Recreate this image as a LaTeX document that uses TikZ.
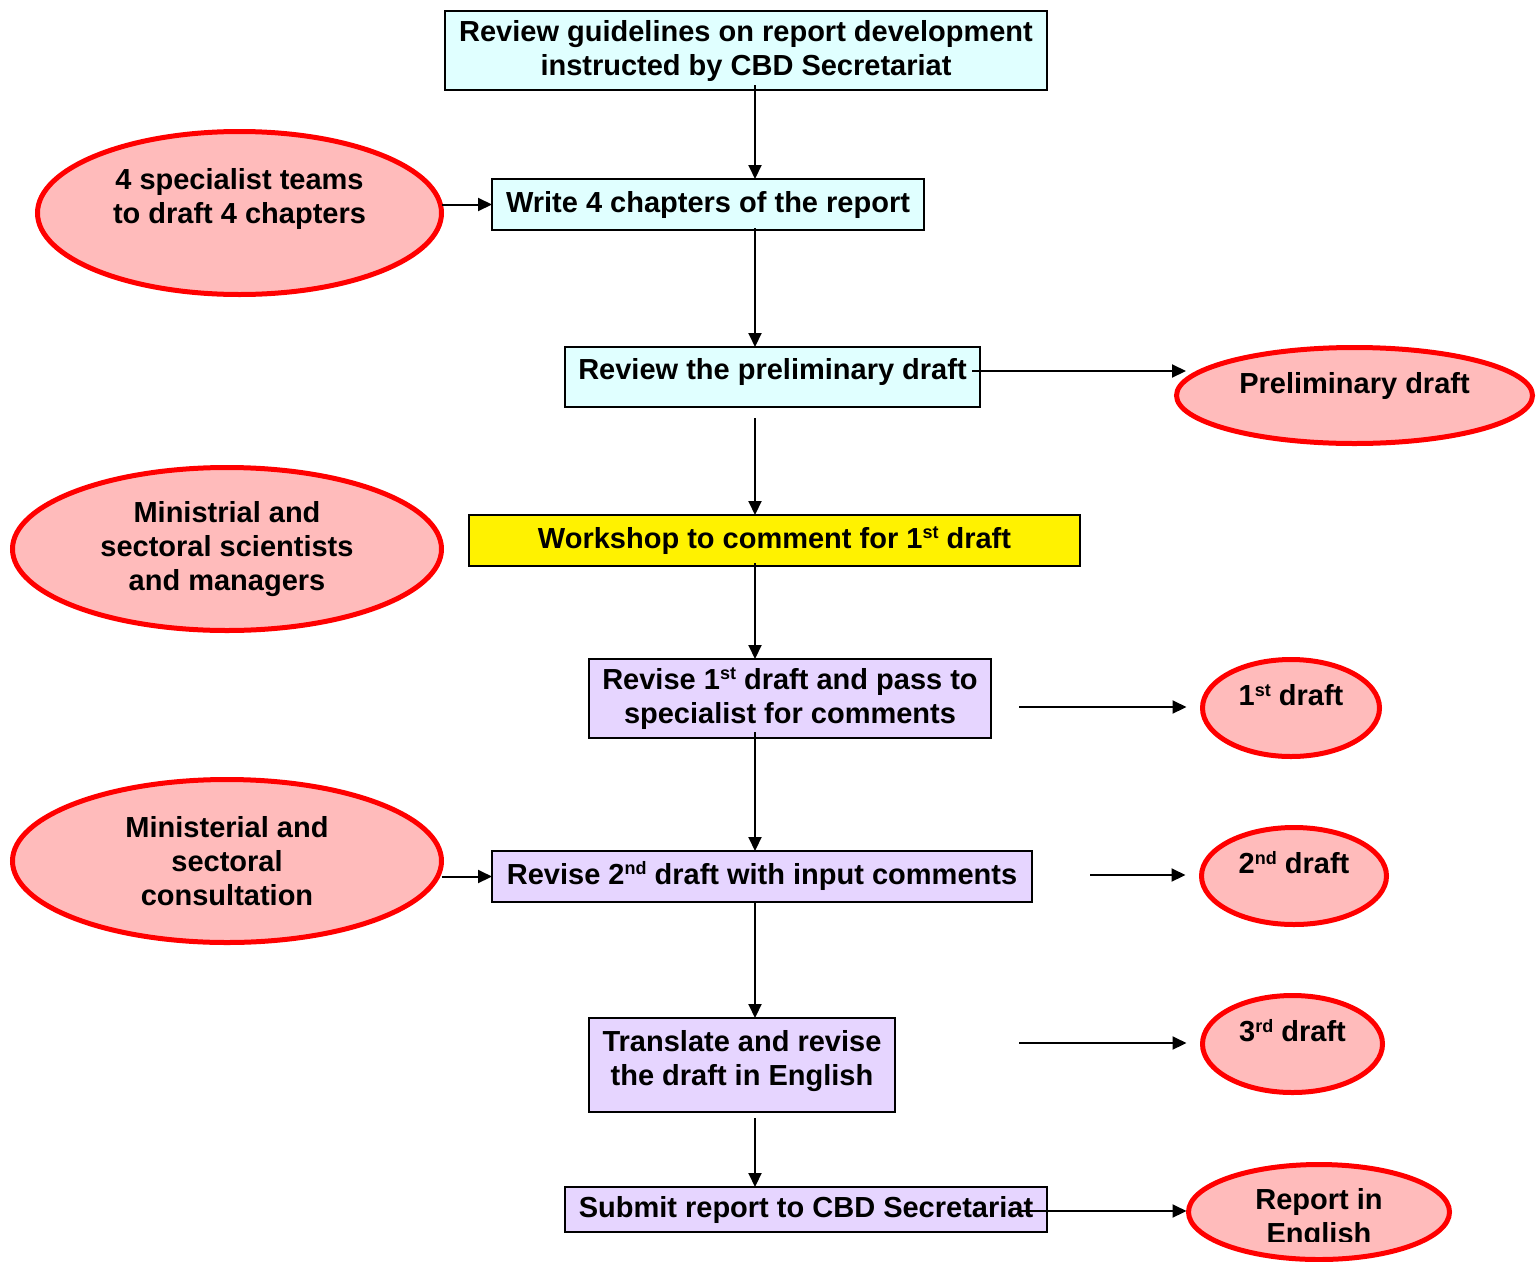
\documentclass[tikz,border=0pt]{standalone}
\usepackage{fontspec}
\setmainfont{Liberation Sans}
\usetikzlibrary{arrows.meta,shapes.geometric}
\definecolor{boxcyan}{RGB}{224,255,255}
\definecolor{boxlav}{RGB}{230,213,255}
\definecolor{ovalpink}{RGB}{255,187,187}
\definecolor{ovalred}{RGB}{255,0,0}
\newcommand\supx[1]{\raisebox{9.5pt}{\fontsize{18}{18}\selectfont #1}}
\begin{document}
\begin{tikzpicture}[x=1pt,y=-1pt,
  every node/.style={font=\fontsize{29}{34}\selectfont\bfseries, inner sep=0pt, outer sep=0pt, align=center},
  stepbox/.style={draw=black, line width=2pt, rectangle, inner sep=2pt},
  cyanbox/.style={stepbox, fill=boxcyan},
  lavbox/.style={stepbox, fill=boxlav},
  yelbox/.style={stepbox, fill=yellow},
  oval/.style={ellipse, draw=ovalred, fill=ovalpink, line width=5pt},
  single/.style={text height=21pt, text depth=26pt},
  arr/.style={line width=2pt, -{Triangle[length=14pt,width=13pt]}}
]
\useasboundingbox (0,0) rectangle (1538,1261);

% process boxes
\node[cyanbox, minimum width=602pt, minimum height=79pt] (b1) at (746,50.5)
  {Review guidelines on report development\\instructed by CBD Secretariat};
\node[cyanbox, minimum width=432pt, minimum height=51pt] (b2) at (708,204.5)
  {Write 4 chapters of the report};
\node[cyanbox, minimum width=415pt, minimum height=60pt, text height=21pt, text depth=16pt] (b3) at (772.5,377)
  {Review the preliminary draft};
\node[yelbox, minimum width=611pt, minimum height=51pt, text height=21pt, text depth=6pt] (b4) at (774.5,540.5)
  {Workshop to comment for 1\supx{st} draft};
\node[lavbox, minimum width=402pt, minimum height=79pt] (b5) at (790,698.5)
  {Revise 1\supx{st} draft and pass to\\specialist for comments};
\node[lavbox, minimum width=540pt, minimum height=51pt, text height=21pt, text depth=6pt] (b6) at (762,876.5)
  {Revise 2\supx{nd} draft with input comments};
\node[lavbox, minimum width=306pt, minimum height=94pt, text height=55pt, text depth=14pt] (b7) at (742,1065)
  {Translate and revise\\the draft in English};
\node[lavbox, minimum width=482pt, minimum height=45pt] (b8) at (806,1209.5)
  {Submit report to CBD Secretariat};

% ovals
\node[oval, minimum width=404pt, minimum height=163pt] (e1) at (239.5,213)
  {4 specialist teams\\to draft 4 chapters\\\mbox{}};
\node[oval, single, minimum width=356pt, minimum height=96pt] (pre) at (1354.5,395.5)
  {Preliminary draft};
\node[oval, minimum width=429pt, minimum height=163pt] (e2) at (227,549)
  {Ministrial and\\sectoral scientists\\and managers};
\node[oval, single, minimum width=177pt, minimum height=97pt] (d1) at (1291,708)
  {1\supx{st} draft};
\node[oval, minimum width=429pt, minimum height=163pt] (e3) at (227,861)
  {Ministerial and\\sectoral\\consultation};
\node[oval, single, minimum width=185pt, minimum height=97pt] (d2) at (1294,876)
  {2\supx{nd} draft};
\node[oval, single, minimum width=180pt, minimum height=97pt] (d3) at (1292.5,1044)
  {3\supx{rd} draft};
\node[oval, minimum width=261pt, minimum height=95pt] (rep) at (1319,1212) {};
\begin{scope}
  \clip (0,0) rectangle (1538,1241);
  \node (reptext) at (1319,1219) {Report in\\English};
\end{scope}

% vertical connectors
\coordinate (s1) at (755,85);
\coordinate (s2) at (755,228);
\coordinate (s3) at (755,418);
\coordinate (s4) at (755,563);
\coordinate (s5) at (755,732);
\coordinate (s7) at (755,1118);
\draw[arr] (s1) -- (s1 |- b2.north);
\draw[arr] (s2) -- (s2 |- b3.north);
\draw[arr] (s3) -- (s3 |- b4.north);
\draw[arr] (s4) -- (s4 |- b5.north);
\draw[arr] (s5) -- (s5 |- b6.north);
\draw[arr] (b6.south -| s1) -- (b7.north -| s1);
\draw[arr] (s7) -- (s7 |- b8.north);

% horizontal connectors
\draw[arr] (b2.west -| e1.east) -- (b2.west);
\draw[arr] (b6.west -| e3.east) -- (b6.west);
\coordinate (h1) at (972,371);
\coordinate (h1e) at (1186,371);
\draw[arr] (h1) -- (h1e);
\coordinate (h2) at (1019,707);
\draw[arr, shorten >=16pt] (h2) -- (h2 -| d1.west);
\coordinate (h3) at (1090,875);
\draw[arr, shorten >=16pt] (h3) -- (h3 -| d2.west);
\coordinate (h4) at (1019,1043);
\draw[arr, shorten >=16pt] (h4) -- (h4 -| d3.west);
\coordinate (h5) at (1020,1211);
\draw[arr, shorten >=2pt] (h5) -- (h5 -| rep.west);
\end{tikzpicture}
\end{document}
